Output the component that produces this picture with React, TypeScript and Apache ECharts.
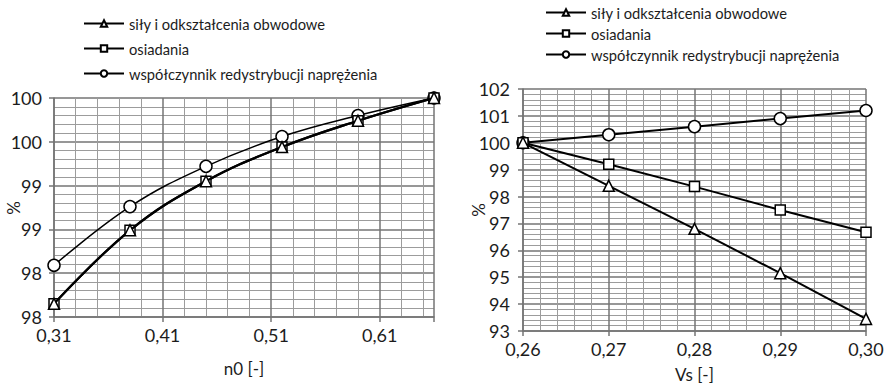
import React, { useEffect, useRef } from "react";
import * as echarts from "echarts";

const seriesNames = [
  "siły i odkształcenia obwodowe",
  "osiadania",
  "współczynnik redystrybucji naprężenia",
];

// Left chart (n0)
const leftX = [0.31, 0.38, 0.45, 0.52, 0.59, 0.66];
const leftForces = [97.65, 98.49, 99.05, 99.44, 99.74, 100];
const leftSettle = [97.65, 98.49, 99.05, 99.44, 99.74, 100];
const leftRedist = [98.09, 98.76, 99.22, 99.56, 99.8, 100];
const leftXTicks = ["0,31", "0,41", "0,51", "0,61"];
const leftYTicks = ["98", "98", "99", "99", "100", "100"];

// Right chart (Vs)
const rightX = [0.26, 0.27, 0.28, 0.29, 0.3];
const rightForces = [100, 98.4, 96.8, 95.15, 93.45];
const rightSettle = [100, 99.2, 98.37, 97.5, 96.67];
const rightRedist = [100, 100.3, 100.6, 100.9, 101.2];
const rightXTicks = ["0,26", "0,27", "0,28", "0,29", "0,30"];

const yName = "%";

const symbols = ["triangle", "rect", "circle"];
const symbolSizes = [11, 10, 12];

const FONT = "Lato";
const MAJOR = "#747474";
const MINOR = "#9c9c9c";
const TEXT = "#1c1c1c";

function pairs(xs: number[], ys: number[]) {
  return xs.map((x, i) => [x, ys[i]]);
}

export default function App() {
  const ref = useRef<HTMLDivElement>(null);
  useEffect(() => {
    if (!ref.current) return;
    const chart = echarts.init(ref.current, null, { renderer: "svg" });

    const labelAxisCommon = {
      type: "value" as const,
      interval: 1,
      axisLine: { show: true, lineStyle: { color: MAJOR, width: 1.5 } },
      axisTick: { show: true, length: 5, lineStyle: { color: MAJOR, width: 1.5 } },
      splitLine: { show: true, lineStyle: { color: MAJOR, width: 1.5 } },
      minorTick: { show: false, splitNumber: 5 },
      minorSplitLine: { show: true, lineStyle: { color: MINOR, width: 1 } },
      nameLocation: "middle" as const,
      nameTextStyle: { fontFamily: FONT, fontSize: 17, color: TEXT },
      axisLabel: { fontFamily: FONT, fontSize: 18, color: TEXT, margin: 9 },
    };

    const mkSeries = (
      xIdx: number,
      yIdx: number,
      xs: number[],
      data: number[][],
      smooth: boolean,
      widths: number[]
    ) =>
      data.map((ys, i) => ({
        name: seriesNames[i],
        type: "line",
        xAxisIndex: xIdx,
        yAxisIndex: yIdx,
        data: pairs(xs, ys),
        smooth: smooth ? 0.4 : false,
        symbol: symbols[i],
        symbolSize: symbolSizes[i],
        showAllSymbol: true,
        lineStyle: { color: "#000", width: widths[i] },
        itemStyle: { color: "#fff", borderColor: "#000", borderWidth: 1.5 },
        z: 5 + (2 - i),
      }));

    const legendCommon = {
      orient: "vertical" as const,
      itemWidth: 40,
      itemHeight: 8,
      textStyle: { fontFamily: FONT, fontSize: 14.7, color: TEXT },
      data: seriesNames,
      selectedMode: false,
      padding: 0,
    };

    const yNameText = (x: number, y: number) => ({
      type: "text",
      x,
      y,
      rotation: Math.PI / 2,
      style: {
        text: yName,
        fontFamily: FONT,
        fontSize: 17,
        fill: TEXT,
        align: "center",
        verticalAlign: "middle",
      },
    });

    chart.setOption({
      animation: false,
      backgroundColor: "#fff",
      textStyle: { fontFamily: FONT },
      legend: [
        { ...legendCommon, left: 83, top: 16, itemGap: 10 },
        { ...legendCommon, left: 545, top: 5, itemGap: 6 },
      ],
      grid: [
        { left: 54, top: 98, width: 380, height: 219 },
        { left: 523, top: 89, width: 343, height: 242 },
      ],
      graphic: [yNameText(13, 208), yNameText(478, 210)],
      xAxis: [
        {
          ...labelAxisCommon,
          gridIndex: 0,
          min: 0,
          max: 3.5,
          name: "n0 [-]",
          nameGap: 43,
          axisLabel: {
            ...labelAxisCommon.axisLabel,
            formatter: (v: number) => (Number.isInteger(v) ? leftXTicks[v] ?? "" : ""),
          },
        },
        { type: "value", gridIndex: 0, min: 0.31, max: 0.66, show: false },
        {
          ...labelAxisCommon,
          gridIndex: 1,
          min: 0,
          max: 4,
          name: "Vs [-]",
          nameGap: 35,
          axisLabel: {
            ...labelAxisCommon.axisLabel,
            formatter: (v: number) => (Number.isInteger(v) ? rightXTicks[v] ?? "" : ""),
          },
        },
        { type: "value", gridIndex: 1, min: 0.26, max: 0.3, show: false },
      ],
      yAxis: [
        {
          ...labelAxisCommon,
          gridIndex: 0,
          min: 97.5,
          max: 100,
          interval: 0.5,
          axisLabel: {
            ...labelAxisCommon.axisLabel,
            margin: 12,
            formatter: (v: number) => leftYTicks[Math.round((v - 97.5) / 0.5)] ?? "",
          },
        },
        {
          ...labelAxisCommon,
          gridIndex: 1,
          min: 93,
          max: 102,
          interval: 1,
          axisLabel: { ...labelAxisCommon.axisLabel, margin: 13 },
        },
      ],
      series: [
        ...mkSeries(1, 0, leftX, [leftForces, leftSettle, leftRedist], true, [2.2, 2.2, 1.5]),
        ...mkSeries(3, 1, rightX, [rightForces, rightSettle, rightRedist], false, [2, 2, 2]),
      ],
    });
    return () => chart.dispose();
  }, []);
  return (
    <div
      ref={ref}
      style={{ position: "fixed", left: 0, top: 0, width: 887, height: 391, background: "#fff" }}
    />
  );
}
